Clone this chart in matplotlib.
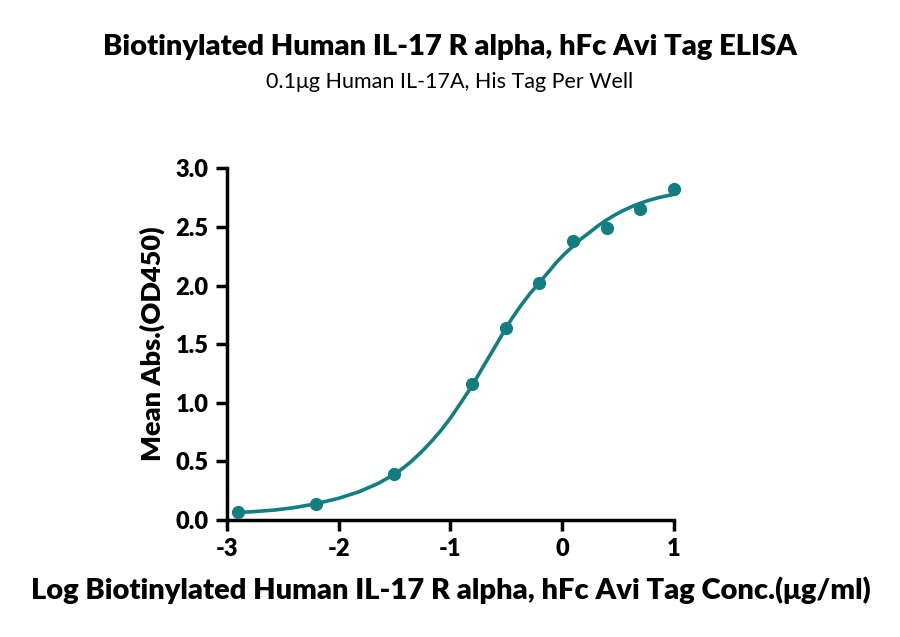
import numpy as np
import matplotlib
matplotlib.use("Agg")
import matplotlib.pyplot as plt

plt.rcParams['font.family'] = ['Lato', 'DejaVu Sans']

# measured points (log10 conc, mean OD450)
log_conc = [-2.903, -2.204, -1.505, -0.806, -0.505, -0.204, 0.097, 0.398, 0.699, 1.0]
mean_abs = [0.07, 0.14, 0.39, 1.16, 1.64, 2.02, 2.38, 2.49, 2.65, 2.82]

# fitted curve
curve_x = [-2.92, -2.75, -2.57, -2.4, -2.21, -2.0, -1.82, -1.65, -1.51, -1.42, -1.35,
           -1.26, -1.17, -1.08, -1.0, -0.9, -0.81, -0.7, -0.6, -0.52, -0.45, -0.37,
           -0.29, -0.21, -0.12, -0.05, 0.02, 0.09, 0.17, 0.24, 0.32, 0.39, 0.47,
           0.54, 0.62, 0.69, 0.77, 0.84, 0.92, 1.0]
curve_y = [0.062, 0.072, 0.085, 0.105, 0.137, 0.185, 0.24, 0.31, 0.385, 0.445, 0.50,
           0.58, 0.67, 0.77, 0.87, 1.01, 1.14, 1.32, 1.48, 1.61, 1.72, 1.83,
           1.93, 2.02, 2.12, 2.20, 2.27, 2.33, 2.40, 2.45, 2.51, 2.556, 2.602,
           2.638, 2.673, 2.70, 2.726, 2.745, 2.763, 2.778]

teal = '#137e80'

fig = plt.figure(figsize=(9, 6.37), dpi=100)
ax = fig.add_axes([0.252, 0.1837, 0.497, 0.552])

ax.plot(curve_x, curve_y, color=teal, lw=2.6, solid_capstyle='round',
        solid_joinstyle='round', zorder=2)
ax.plot(log_conc, mean_abs, 'o', color=teal, ms=8.5, zorder=3, clip_on=False)

ax.set_xlim(-3, 1)
ax.set_ylim(0, 3)
ax.set_xticks([-3, -2, -1, 0, 1])
ax.set_xticklabels(['-3', '-2', '-1', '0', '1'])
ax.set_yticks([0, 0.5, 1.0, 1.5, 2.0, 2.5, 3.0])
ax.set_yticklabels(['0.0', '0.5', '1.0', '1.5', '2.0', '2.5', '3.0'])

for side in ['top', 'right']:
    ax.spines[side].set_visible(False)
for side in ['left', 'bottom']:
    ax.spines[side].set_linewidth(2.5)
ax.tick_params(width=2.5, length=8, labelsize=17, pad=5)
for lbl in ax.get_xticklabels() + ax.get_yticklabels():
    lbl.set_fontweight('heavy')

ax.set_ylabel('Mean Abs.(OD450)', fontsize=19.5, fontweight='heavy', labelpad=8)
ax.set_xlabel('Log Biotinylated Human IL-17 R alpha, hFc Avi Tag Conc.(μg/ml)',
              fontsize=21, fontweight='heavy', labelpad=12)

fig.text(0.5, 0.926, 'Biotinylated Human IL-17 R alpha, hFc Avi Tag ELISA',
         ha='center', va='center', fontsize=21, fontweight='heavy')
fig.text(0.5, 0.871, '0.1μg Human IL-17A, His Tag Per Well',
         ha='center', va='center', fontsize=15.5)

fig.savefig('out.png', dpi=100)
